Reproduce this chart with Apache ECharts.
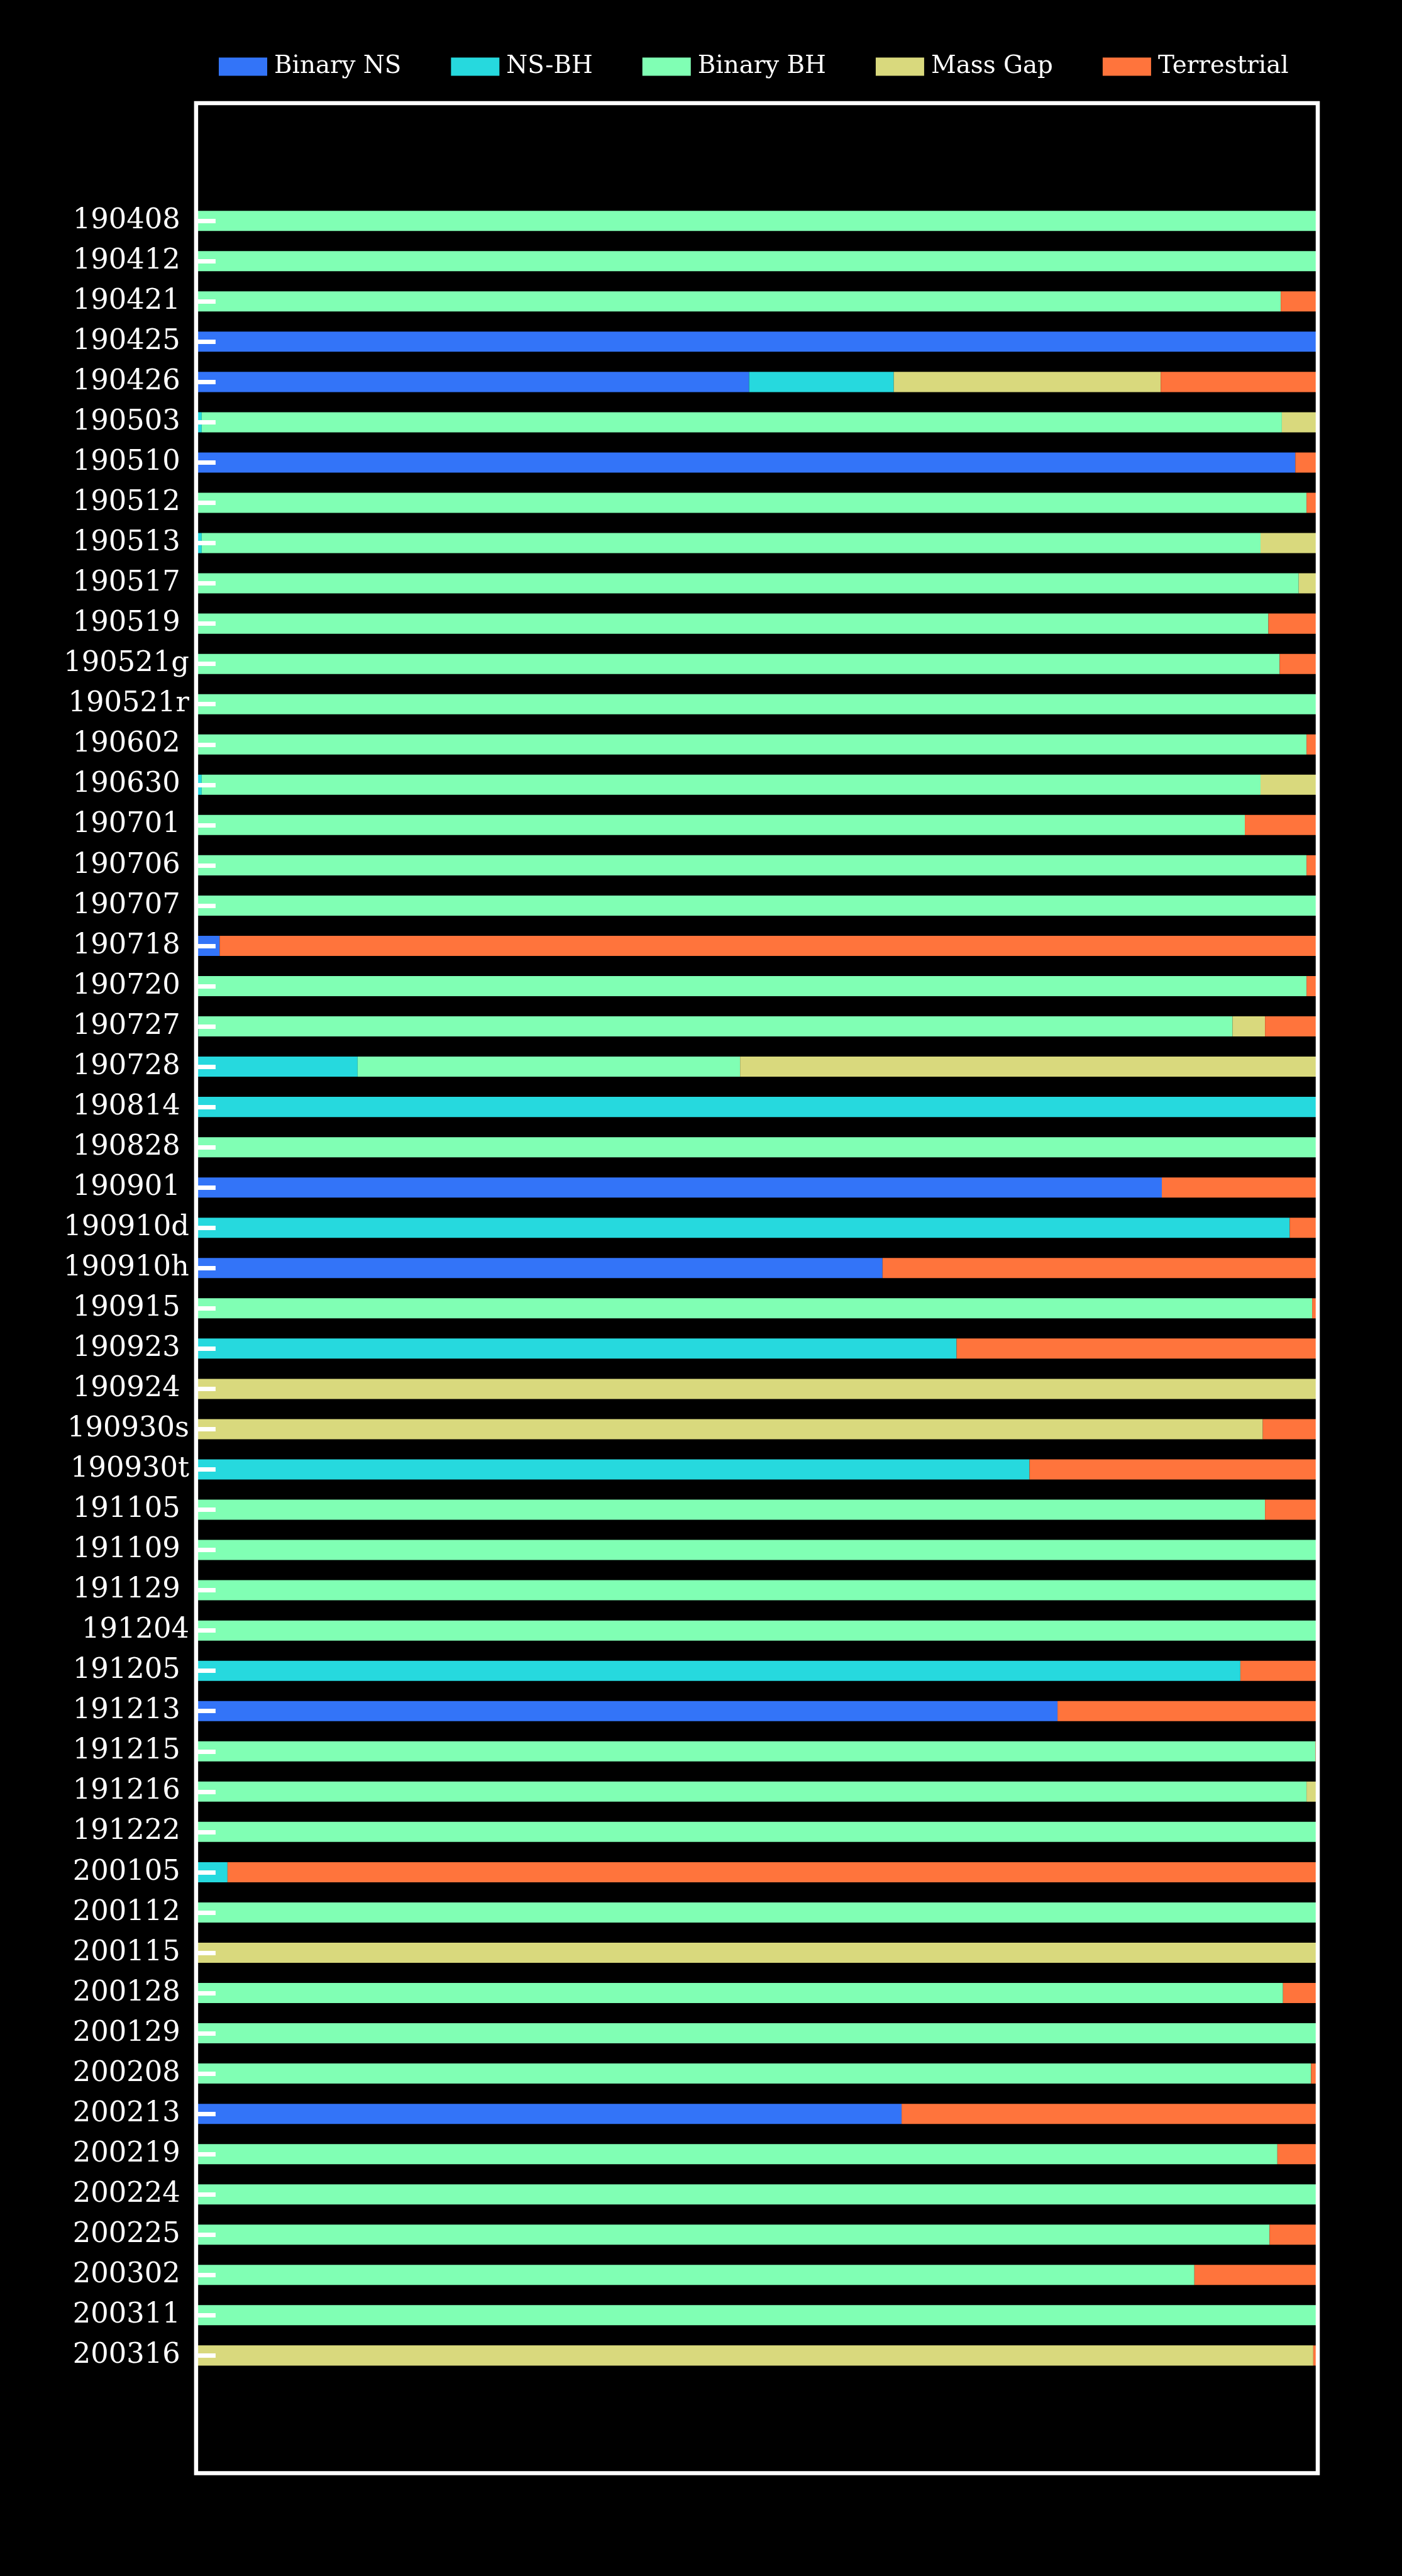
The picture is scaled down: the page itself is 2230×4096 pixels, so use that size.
<!DOCTYPE html>
<html>
<head>
<meta charset="utf-8">
<script src="https://cdn.jsdelivr.net/npm/echarts@6/dist/echarts.min.js"></script>
<style>
  html, body { margin: 0; padding: 0; background: #000; }
  #chart { width: 2230px; height: 4096px; }
</style>
</head>
<body>
<div id="chart"></div>
<script>
// ---- data (fractions) ----
const events = [
  "190408 ","190412 ","190421 ","190425 ","190426 ","190503 ","190510 ","190512 ","190513 ","190517 ",
  "190519 ","190521g","190521r","190602 ","190630 ","190701 ","190706 ","190707 ","190718 ","190720 ",
  "190727 ","190728 ","190814 ","190828 ","190901 ","190910d","190910h","190915 ","190923 ","190924 ",
  "190930s","190930t","191105 ","191109 ","191129 ","191204","191205 ","191213 ","191215 ","191216 ",
  "191222 ","200105 ","200112 ","200115 ","200128 ","200129 ","200208 ","200213 ","200219 ","200224 ",
  "200225 ","200302 ","200311 ","200316 "
];
const seriesNames = ["Binary NS", "NS-BH", "Binary BH", "Mass Gap", "Terrestrial"];

const binaryNS = [
  0,0,0,1,0.493,0,0.980,0,0,0,
  0,0,0,0,0,0,0,0,0.021,0,
  0,0,0,0,0.861,0,0.612,0,0,0,
  0,0,0,0,0,0,0,0.768,0,0,
  0,0,0,0,0,0,0,0.629,0,0,
  0,0,0,0
];
const nsbh = [
  0,0,0,0,0.129,0.005,0,0,0.005,0,
  0,0,0,0,0.005,0,0,0,0,0,
  0.002,0.144,1,0,0,0.975,0,0,0.678,0,
  0,0.743,0,0,0,0,0.931,0,0,0,
  0,0.028,0,0,0,0,0,0,0,0,
  0,0,0,0
];
const binaryBH = [
  1,1,0.967,0,0,0.963,0,0.990,0.944,0.983,
  0.956,0.966,1,0.990,0.944,0.935,0.990,1,0,0.990,
  0.922,0.341,0,1,0,0,0,0.995,0,0,
  0,0,0.953,1,1,1,0,0,0.998,0.990,
  1,0,1,0,0.969,1,0.994,0,0.964,1,
  0.957,0.890,1,0
];
const massGap = [
  0,0,0,0,0.238,0.032,0,0,0.051,0.017,
  0,0,0,0,0.051,0,0,0,0,0,
  0.029,0.515,0,0,0,0,0,0,0,1,
  0.951,0,0,0,0,0,0,0,0,0.010,
  0,0,0,1,0,0,0,0,0,0,
  0,0,0,0.996
];
const terrestrial = [
  0,0,0.033,0,0.140,0,0.020,0.010,0,0,
  0.044,0.034,0,0.010,0,0.065,0.010,0,0.979,0.010,
  0.047,0,0,0,0.139,0.025,0.388,0.005,0.322,0,
  0.049,0.257,0.047,0,0,0,0.069,0.232,0.002,0,
  0,0.972,0,0,0.031,0,0.006,0.371,0.036,0,
  0.043,0.110,0,0.004
];
const seriesValues = [binaryNS, nsbh, binaryBH, massGap, terrestrial];
const seriesColors = ["#3374f8", "#26d9de", "#80ffb4", "#d9d97d", "#ff743c"];

// ---- layout (reference px * 0.808) ----
const FONT = "DejaVu Serif";
const chart = echarts.init(document.getElementById("chart"), null, { renderer: "canvas" });

const option = {
  backgroundColor: "#000000",
  animation: false,
  legend: {
    data: seriesNames,
    left: 348,
    top: 86.5,
    padding: 0,
    icon: "rect",
    itemWidth: 77,
    itemHeight: 29,
    itemGap: 79,
    textStyle: { color: "#ffffff", fontSize: 38.8, fontFamily: FONT, padding: [0, 0, 0, 6] }
  },
  grid: { left: 311.9, right: 134, top: 319.2, bottom: 318.6, containLabel: false },
  xAxis: { type: "value", min: 0, max: 1, show: false },
  yAxis: {
    type: "category",
    data: events,
    inverse: true,
    z: 10,
    axisLine: { show: false },
    axisTick: {
      show: true, inside: true, alignWithLabel: true, length: 31,
      lineStyle: { color: "#ffffff", width: 7 }
    },
    axisLabel: { color: "#ffffff", fontSize: 44.8, fontFamily: FONT, margin: 11 },
    splitLine: { show: false }
  },
  graphic: [{
    type: "rect",
    z: 100,
    shape: { x: 311.9, y: 164, width: 1784.1, height: 3768.5 },
    style: { fill: "none", stroke: "#ffffff", lineWidth: 6.5 }
  }],
  series: seriesNames.map((n, i) => ({
    name: n,
    type: "bar",
    stack: "total",
    barWidth: "50%",
    data: seriesValues[i],
    itemStyle: { color: seriesColors[i] }
  }))
};
chart.setOption(option);
</script>
</body>
</html>
